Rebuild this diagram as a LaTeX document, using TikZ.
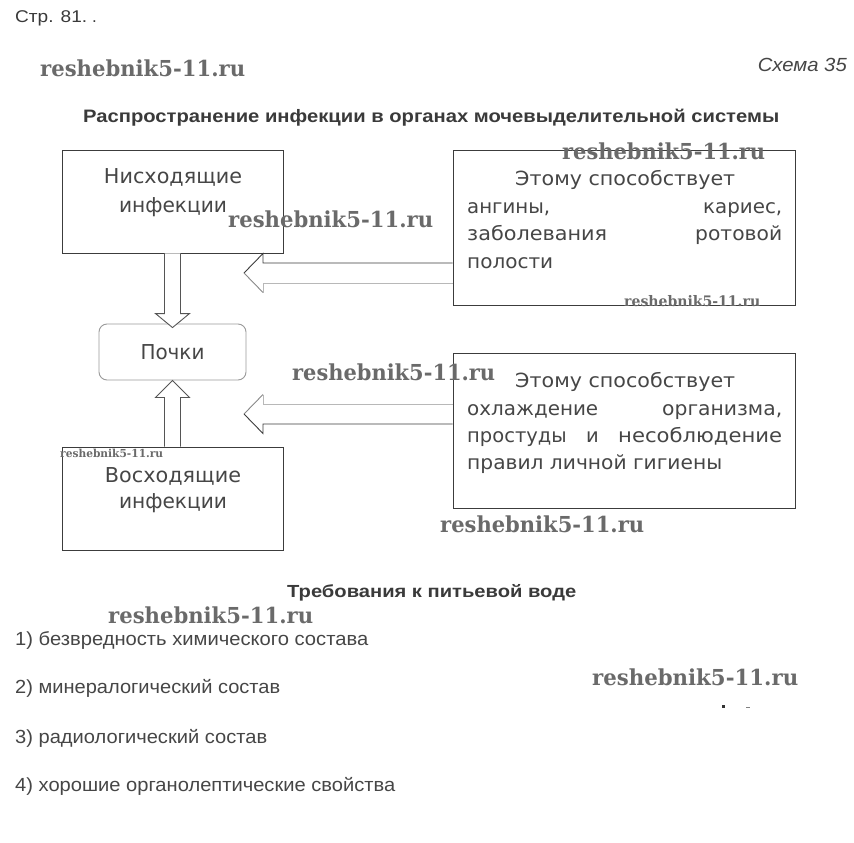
\documentclass[tikz,border=0pt]{standalone}
\usepackage{graphicx}
\usepackage{fontspec}
\setmainfont{Liberation Sans}
\newfontfamily\boxfont{DejaVu Sans}
\newfontfamily\wmfont{DejaVu Serif}
\usetikzlibrary{calc}
\definecolor{txt}{HTML}{3A3A3A}
\definecolor{btxt}{HTML}{464646}
\definecolor{boxc}{HTML}{3C3C3C}
\definecolor{lightc}{HTML}{B8B8B8}
\definecolor{kc}{HTML}{9A9A9A}
\definecolor{arrc}{HTML}{555555}
\definecolor{wmc}{HTML}{6A6A6A}
\newcommand\fitw[2]{\resizebox{#1}{\height}{#2}}
\tikzset{
  sqbox/.style={draw=boxc, line width=0.9pt, minimum width=221pt, minimum height=103pt, inner sep=0pt},
  rbox/.style={draw=boxc, line width=0.9pt, minimum width=342pt, minimum height=155pt, inner sep=0pt},
  kbox/.style={draw=kc, rounded corners=8pt, line width=0.9pt, minimum width=147pt, minimum height=56pt, inner sep=0pt, text=btxt, font=\boxfont\fontsize{20.5}{21}\selectfont},
  ltxt/.style={inner sep=0pt, anchor=base, text=btxt, font=\boxfont\fontsize{20.5}{21}\selectfont},
  rtxt/.style={inner sep=0pt, anchor=base west, text=btxt, font=\boxfont\fontsize{19.5}{20}\selectfont},
  listtxt/.style={inner sep=0pt, anchor=base west, text=btxt, font=\fontsize{19}{19}\selectfont},
  wm/.style={inner sep=0pt, anchor=base west, text=wmc, font=\wmfont\bfseries\fontsize{22}{22}\selectfont},
  wmsmall/.style={wm, font=\wmfont\bfseries\fontsize{14.5}{14.5}\selectfont},
  darkline/.style={draw=boxc, line width=0.9pt},
  lightline/.style={draw=lightc, line width=0.9pt},
  blk/.style={draw=arrc, line width=0.9pt, fill=white}
}
\begin{document}
\begin{tikzpicture}[x=1pt,y=-1pt]
\useasboundingbox[fill=white] (0,0) rectangle (854,843);

% header
\node[inner sep=0pt, anchor=base west, text=txt, font=\fontsize{17}{17}\selectfont] (page) at (15,23) {\fitw{72pt}{Стр. 81.}\hspace{5pt}.};
\node[inner sep=0pt, anchor=base east, text=btxt, font=\fontsize{19}{19}\selectfont] (schema) at (847,72) {\fitw{89pt}{\itshape Схема 35}};
\node[inner sep=0pt, anchor=base west, text=txt, font=\bfseries\fontsize{18}{18}\selectfont] (title) at (83,122) {\fitw{696pt}{Распространение инфекции в органах мочевыделительной системы}};

% boxes
\node[sqbox] (nisbox) at (172.5,201.5) {};
\node[sqbox] (vosbox) at (172.5,498.5) {};
\node[kbox] (pochki) at (172.5,352) {\fitw{64pt}{Почки}};
\node[rbox] (rb1) at (624,227.5) {};
\node[rbox] (rb2) at (624,430.5) {};

% left box texts
\node[ltxt] (nis1) at (173,183) {\fitw{138pt}{Нисходящие}};
\node[ltxt] (nis2) at (173,212) {\fitw{108pt}{инфекции}};
\node[ltxt] (vos1) at (173,482) {\fitw{136pt}{Восходящие}};
\node[ltxt] (vos2) at (173,508) {\fitw{108pt}{инфекции}};

% right box texts
\node[rtxt] (r1a) at (515,185) {\fitw{220pt}{Этому способствует}};
\node[rtxt] (r1b) at (467,213) {\makebox[315pt]{\fitw{83pt}{ангины,}\hfill\fitw{79pt}{кариес,}}};
\node[rtxt] (r1c) at (467,240) {\makebox[315pt]{\fitw{140pt}{заболевания}\hfill\fitw{87pt}{ротовой}}};
\node[rtxt] (r1d) at (467,268) {\fitw{86pt}{полости}};
\node[rtxt] (r2a) at (515,387) {\fitw{220pt}{Этому способствует}};
\node[rtxt] (r2b) at (467,415) {\makebox[315pt]{\fitw{131pt}{охлаждение}\hfill\fitw{120pt}{организма,}}};
\node[rtxt] (r2c) at (467,442) {\makebox[315pt]{простуды\hfill и\hfill\fitw{164pt}{несоблюдение}}};
\node[rtxt] (r2d) at (467,469) {\fitw{255pt}{правил личной гигиены}};

% vertical block arrows
\draw[blk] ($(nisbox.south)+(-8,0)$) -- ($(pochki.north)+(-8,-10)$) -- ($(pochki.north)+(-17,-10)$)
  -- ($(pochki.north)+(0,4)$) -- ($(pochki.north)+(17,-10)$) -- ($(pochki.north)+(8,-10)$) -- ($(nisbox.south)+(8,0)$);
\draw[blk] ($(vosbox.north)+(-8,0)$) -- ($(pochki.south)+(-8,17)$) -- ($(pochki.south)+(-17,17)$)
  -- (pochki.south) -- ($(pochki.south)+(17,17)$) -- ($(pochki.south)+(8,17)$) -- ($(vosbox.north)+(8,0)$);

% horizontal block arrows
\coordinate (t1) at (244,273);
\coordinate (t2) at (244,414);
\draw[darkline] ($(rb1.west)+(0,35.5)$) -- ($(t1)+(19,-10)$) -- ($(t1)+(19,-19.5)$) -- (t1);
\draw[lightline, draw=arrc!70] (t1) -- ($(t1)+(19,19.5)$);
\draw[lightline] ($(t1)+(19,19.5)$) -- ($(t1)+(19,10)$) -- ($(rb1.west)+(0,55.5)$);
\draw[lightline] ($(rb2.west)+(0,-26.5)$) -- ($(t2)+(19,-10)$) -- ($(t2)+(19,-19.5)$);
\draw[lightline, draw=arrc!70] ($(t2)+(19,-19.5)$) -- (t2);
\draw[darkline] (t2) -- ($(t2)+(19,19.5)$) -- ($(t2)+(19,10)$) -- ($(rb2.west)+(0,-6.5)$);

% bottom section
\node[inner sep=0pt, anchor=base west, text=txt, font=\bfseries\fontsize{17.5}{18}\selectfont] (req) at (287,597) {\fitw{289pt}{Требования к питьевой воде}};
\node[listtxt] (l1) at (15,645) {\fitw{353pt}{1) безвредность химического состава}};
\node[listtxt] (l2) at (15,693) {\fitw{265pt}{2) минералогический состав}};
\node[listtxt] (l3) at (15,743) {\fitw{252pt}{3) радиологический состав}};
\node[listtxt] (l4) at (15,791) {\fitw{380pt}{4) хорошие органолептические свойства}};

% small specks
\fill[black!80] (722,705) rectangle (725,708);
\fill[gray] (746,706.5) rectangle (750,707.5);

% watermarks
\node[wm] (wm1) at (40,77) {\fitw{205pt}{reshebnik5-11.ru}};
\node[wm] (wm2) at (562,159) {\fitw{203pt}{reshebnik5-11.ru}};
\node[wm] (wm3) at (228,227) {\fitw{205pt}{reshebnik5-11.ru}};
\node[wmsmall] (wm4) at (624,306) {\fitw{136pt}{reshebnik5-11.ru}};
\node[wm] (wm5) at (292,380) {\fitw{203pt}{reshebnik5-11.ru}};
\node[wmsmall, font=\wmfont\bfseries\fontsize{11}{11}\selectfont] (wm6) at (60,457) {\fitw{103pt}{reshebnik5-11.ru}};
\node[wm] (wm7) at (440,532) {\fitw{204pt}{reshebnik5-11.ru}};
\node[wm] (wm8) at (108,623) {\fitw{205pt}{reshebnik5-11.ru}};
\node[wm] (wm9) at (592,685) {\fitw{206pt}{reshebnik5-11.ru}};
\end{tikzpicture}
\end{document}
